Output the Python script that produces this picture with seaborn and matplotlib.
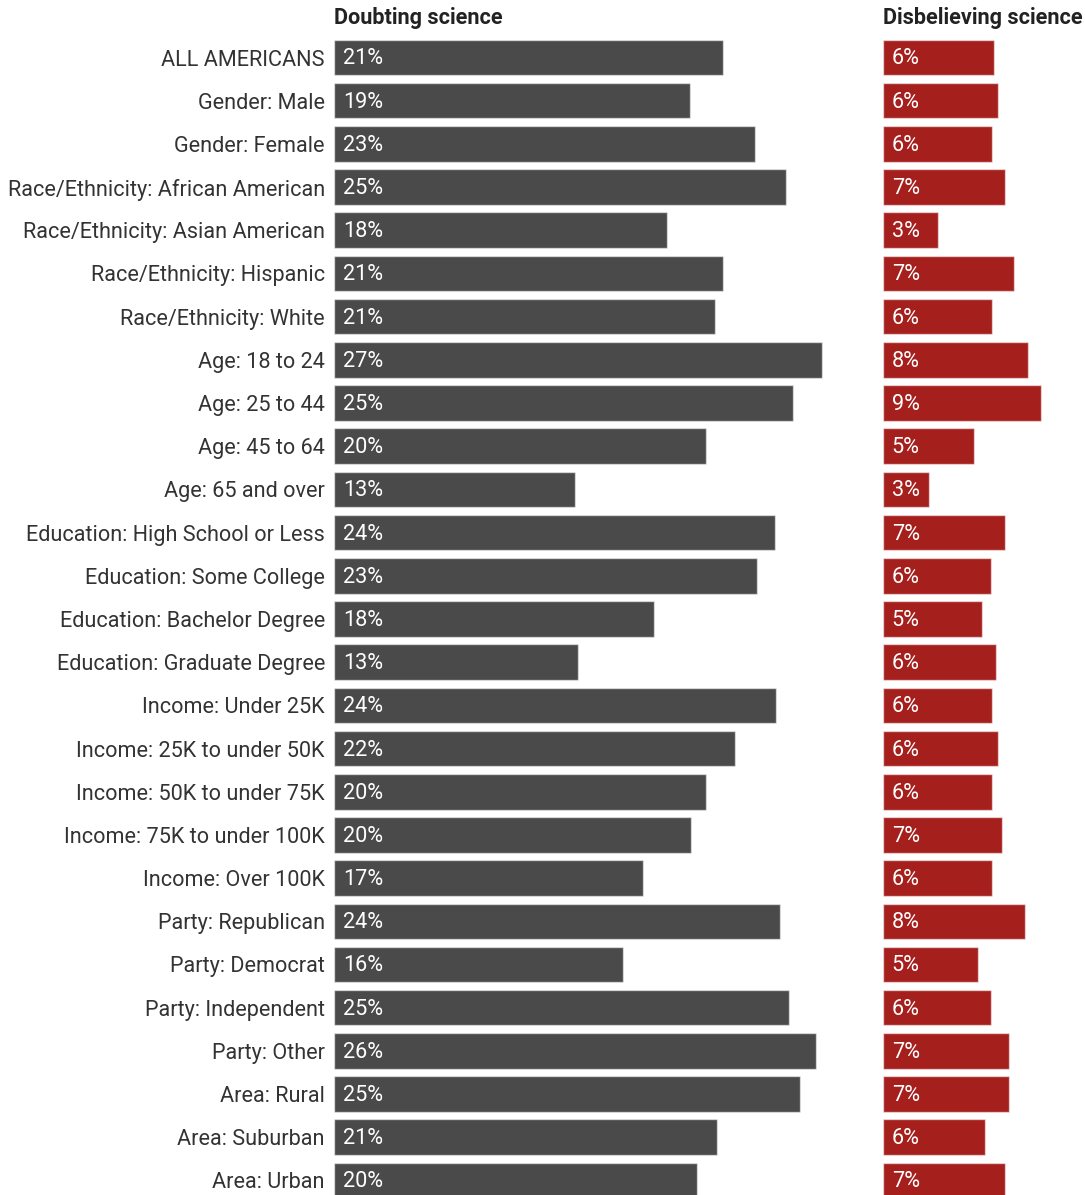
import matplotlib
matplotlib.use("Agg")
import matplotlib.pyplot as plt
import seaborn as sns
import pandas as pd

groups = [
    "ALL AMERICANS",
    "Gender: Male",
    "Gender: Female",
    "Race/Ethnicity: African American",
    "Race/Ethnicity: Asian American",
    "Race/Ethnicity: Hispanic",
    "Race/Ethnicity: White",
    "Age: 18 to 24",
    "Age: 25 to 44",
    "Age: 45 to 64",
    "Age: 65 and over",
    "Education: High School or Less",
    "Education: Some College",
    "Education: Bachelor Degree",
    "Education: Graduate Degree",
    "Income: Under 25K",
    "Income: 25K to under 50K",
    "Income: 50K to under 75K",
    "Income: 75K to under 100K",
    "Income: Over 100K",
    "Party: Republican",
    "Party: Democrat",
    "Party: Independent",
    "Party: Other",
    "Area: Rural",
    "Area: Suburban",
    "Area: Urban",
]

doubting = [
    21.26, 19.45, 23.01, 24.71, 18.20, 21.26, 20.86, 26.68, 25.09, 20.37,
    13.18, 24.12, 23.12, 17.52, 13.36, 24.20, 21.95, 20.37, 19.52, 16.92,
    24.40, 15.83, 24.91, 26.38, 25.47, 20.97, 19.87,
]

disbelieving = [
    6.10, 6.31, 6.00, 6.69, 3.04, 7.18, 6.00, 7.97, 8.66, 5.01,
    2.55, 6.69, 5.91, 5.42, 6.20, 6.00, 6.31, 6.00, 6.51, 6.00,
    7.78, 5.21, 5.91, 6.89, 6.89, 5.61, 6.69,
]

titles = ["Doubting science", "Disbelieving science"]

df = pd.DataFrame({"group": groups, "doubting": doubting, "disbelieving": disbelieving})

sns.set_theme(style="white")
plt.rcParams["font.family"] = ["Roboto", "DejaVu Sans"]

W, H = 1085, 1195
fig = plt.figure(figsize=(W / 100, H / 100), dpi=100)
fig.patch.set_facecolor("white")

px_per_unit = 18.28     # horizontal scale shared by both panels
row_pitch = 43.19       # vertical distance between rows, px
top_px = 57.5 - row_pitch / 2
ax_h = H - top_px
y_bottom = -0.5 + ax_h / row_pitch
FS = 15.6

panels = [
    ("doubting", 334.0, 860.0, "#4a4a4a"),
    ("disbelieving", 882.7, 1085.0, "#a51f1d"),
]

for (col, x0, x1, color), title in zip(panels, titles):
    ax = fig.add_axes([x0 / W, 0, (x1 - x0) / W, ax_h / H])
    sns.barplot(
        data=df, x=col, y="group", orient="h", color=color, saturation=1,
        width=0.824, edgecolor=(1, 1, 1, 0.55), linewidth=1.0, ax=ax,
    )
    ax.set_xlim(0, (x1 - x0) / px_per_unit)
    ax.set_ylim(y_bottom, -0.5)
    for s in ax.spines.values():
        s.set_visible(False)
    ax.set_xlabel("")
    ax.set_ylabel("")
    ax.set_xticks([])
    ax.tick_params(axis="y", length=0, pad=6.5, labelsize=FS, labelcolor="#333333")
    if col != "doubting":
        ax.set_yticklabels([])
    for i, v in enumerate(df[col]):
        ax.annotate(
            f"{v:.0f}%", xy=(0, i), xytext=(9, -1.5), textcoords="offset pixels",
            ha="left", va="center", color="white", fontsize=FS,
        )
    fig.text(x0 / W, 1 - 18 / H, title, ha="left", va="center",
             fontsize=FS, fontweight="bold", color="#222222")

fig.savefig("out.png", dpi=100, facecolor="white")
